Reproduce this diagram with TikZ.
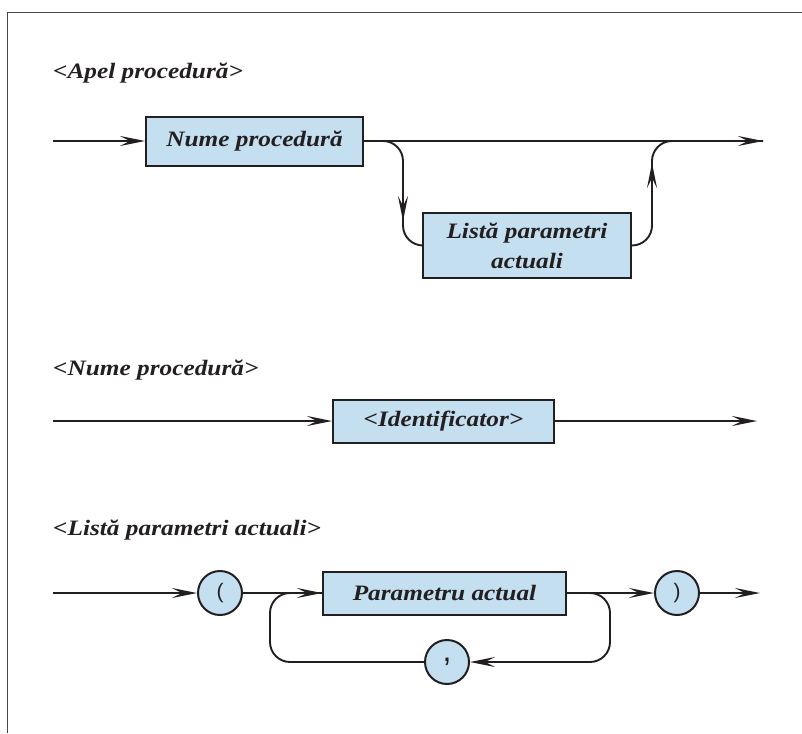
\documentclass[tikz,border=0pt]{standalone}
\usepackage{fontspec}
\setmainfont{Liberation Serif}[FakeStretch=1.15]
\setsansfont{Liberation Sans}
\usetikzlibrary{arrows.meta}
\definecolor{boxfill}{RGB}{196,223,240}
\definecolor{ink}{RGB}{35,31,32}
\definecolor{framegray}{RGB}{70,70,70}
\tikzset{
  >={Stealth[length=25pt,width=10pt,inset=10pt]},
  lab/.style={font=\fontsize{22}{30}\selectfont\bfseries\itshape, text=ink},
  heading/.style={lab, anchor=base west, inner sep=0pt},
  term/.style={lab, draw=ink, fill=boxfill, line width=2pt, inner sep=0pt, align=center},
  sym/.style={circle, draw=ink, fill=boxfill, line width=2pt, minimum size=44pt,
    inner sep=0pt, font=\sffamily\fontsize{21}{24}\selectfont, text=ink},
  flow/.style={draw=ink, line width=1.9pt},
  arr/.style={flow, ->},
  branch/.style={flow, rounded corners=20pt},
}
\begin{document}
\begin{tikzpicture}[x=1pt,y=-1pt]
\useasboundingbox (0,0) rectangle (802,733);

% outer frame
\draw[framegray, line width=1.5pt] (7.5,733) -- (7.5,12.5) -- (802,12.5);

% ---- <Apel procedura> ----
\node[heading] (h1) at (53,79) {<Apel procedură>};
\coordinate (s1) at (53,141);
\coordinate (e1) at (763,141);
\node[term, minimum width=217pt, minimum height=49pt] (np) at (254.5,141) {Nume procedură};
\node[term, minimum width=208pt, minimum height=65pt] (lpa) at (527,245.5) {Listă parametri\\actuali};
\draw[arr] (s1) -- (np.west);
\draw[arr] (np.east) -- (e1);
\draw[branch] (np.east) -- (403,141) -- (403,245.5) -- (lpa.west);
\draw[arr] (403,170) -- (403,221);
\draw[branch] (lpa.east) -- (652,245.5) -- (652,141) -- (e1);
\draw[arr] (652,215) -- (652,163);

% ---- <Nume procedura> ----
\node[heading] (h2) at (53,375) {<Nume procedură>};
\coordinate (s2) at (53,421);
\coordinate (e2) at (757,421);
\node[term, minimum width=221pt, minimum height=43pt] (id) at (443.5,421) {<Identificator>};
\draw[arr] (s2) -- (id.west);
\draw[arr] (id.east) -- (e2);

% ---- <Lista parametri actuali> ----
\node[heading] (h3) at (53,535) {<Listă parametri actuali>};
\coordinate (s3) at (53,593);
\coordinate (e3) at (760,593);
\node[sym] (lp) at (220,593) {(};
\node[term, minimum width=243pt, minimum height=43pt] (pa) at (444.5,593) {Parametru actual};
\node[sym] (rp) at (677,593) {)};
\node[sym, font=\sffamily\fontsize{32}{32}\selectfont] (cm) at (447,662) {,};
\draw[arr] (s3) -- (lp.west);
\draw[arr] (lp.east) -- (pa.west);
\draw[arr] (pa.east) -- (rp.west);
\draw[arr] (rp.east) -- (e3);
\draw[branch, ->] (pa.east) -- (610,593) -- (610,662) -- (cm.east);
\draw[branch] (cm.west) -- (270,662) -- (270,593) -- (pa.west);
\end{tikzpicture}
\end{document}
